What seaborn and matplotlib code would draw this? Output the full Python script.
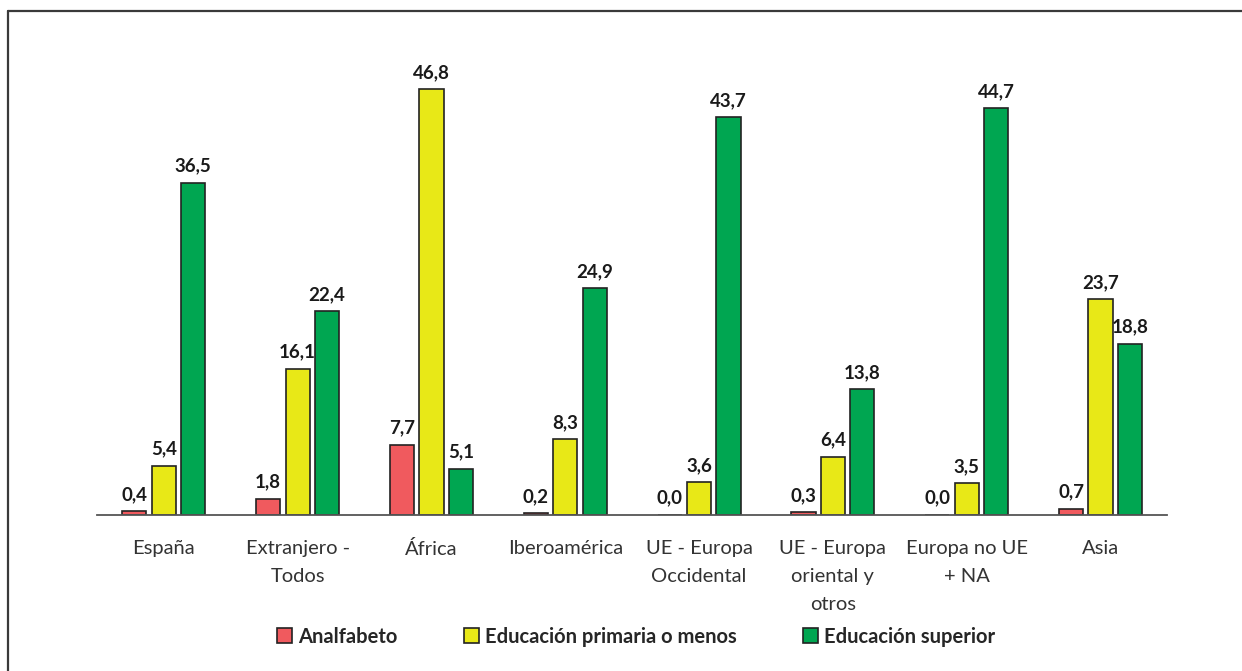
import seaborn as sns
import matplotlib.pyplot as plt
import pandas as pd
from matplotlib.patches import Patch
from matplotlib.lines import Line2D

categorias = ['España', 'Extranjero -\nTodos', 'África', 'Iberoamérica',
              'UE - Europa\nOccidental', 'UE - Europa\noriental y\notros',
              'Europa no UE\n+ NA', 'Asia']
analfabeto = [0.4, 1.8, 7.7, 0.2, 0.0, 0.3, 0.0, 0.7]
primaria = [5.4, 16.1, 46.8, 8.3, 3.6, 6.4, 3.5, 23.7]
superior = [36.5, 22.4, 5.1, 24.9, 43.7, 13.8, 44.7, 18.8]
series = ['Analfabeto', 'Educación primaria o menos', 'Educación superior']
colores = ['#F05A5E', '#E8E817', '#00A651']

df = pd.DataFrame({
    'cat': categorias * 3,
    'serie': [series[0]] * 8 + [series[1]] * 8 + [series[2]] * 8,
    'valor': analfabeto + primaria + superior,
})

sns.set_style('white')
plt.rcParams['font.family'] = ['Lato', 'DejaVu Sans']

fig = plt.figure(figsize=(12.42, 6.71), dpi=100)
ax = fig.add_axes([0.078, 0.2325, 0.862, 0.678])

sns.barplot(data=df, x='cat', y='valor', hue='serie', palette=colores, saturation=1,
            width=0.66, gap=0.18, edgecolor='#222222', linewidth=1.2,
            legend=False, ax=ax)

for cont in ax.containers:
    ax.bar_label(cont, labels=[f'{v:.1f}'.replace('.', ',') for v in cont.datavalues],
                 padding=6, fontsize=13.5, fontweight='bold', color='#1a1a1a')

ax.set_xlim(-0.5, 7.5)
ax.set_ylim(0, 50)
ax.set_xlabel('')
ax.set_ylabel('')
ax.set_yticks([])
ax.tick_params(axis='x', length=0, pad=18, labelsize=14.5, colors='#333333')
for lab in ax.get_xticklabels():
    lab.set_linespacing(1.8)
for s in ['left', 'right', 'top']:
    ax.spines[s].set_visible(False)
ax.spines['bottom'].set_color('#555555')
ax.spines['bottom'].set_linewidth(1.3)

handles = [Patch(facecolor=c, edgecolor='#222222', linewidth=1.2) for c in colores]
leg = fig.legend(handles, series, loc='center', bbox_to_anchor=(0.512, 0.051),
                 ncol=3, frameon=False, handlelength=0.75, handleheight=0.75,
                 handletextpad=0.3, columnspacing=3.3, prop={'weight': 'bold', 'size': 14.5})

fig.add_artist(Line2D([8 / 1242, 8 / 1242], [0, 1 - 11 / 671], transform=fig.transFigure,
                      color='#3a3a3a', linewidth=1.6))
fig.add_artist(Line2D([8 / 1242, 1], [1 - 11 / 671, 1 - 11 / 671], transform=fig.transFigure,
                      color='#3a3a3a', linewidth=1.6))

fig.savefig('out.png', dpi=100)
